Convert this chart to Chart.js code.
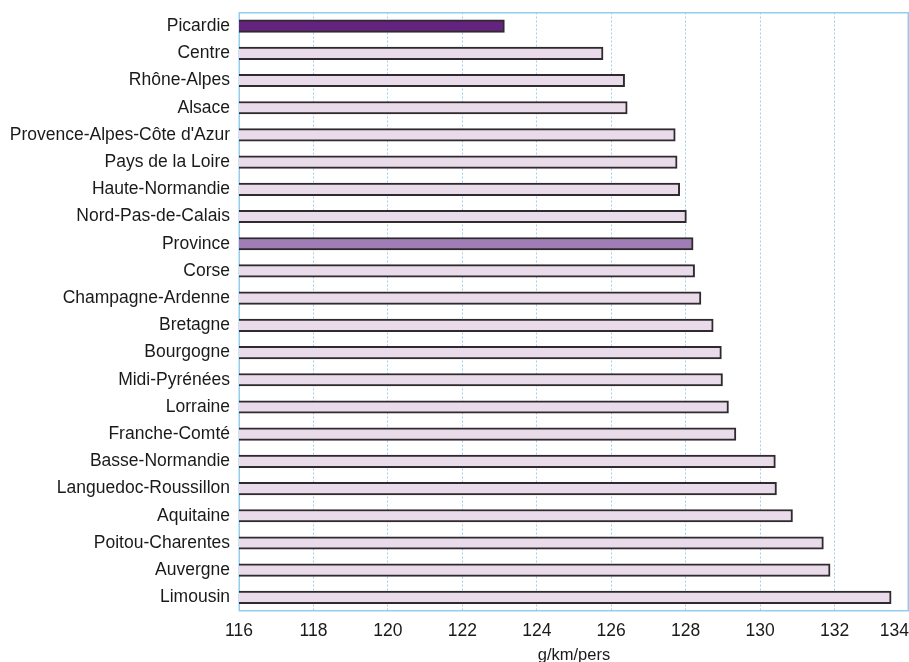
<!DOCTYPE html>
<html>
<head>
<meta charset="utf-8">
<script src="https://cdn.jsdelivr.net/npm/chart.js@4"></script>
<style>
  html, body { margin: 0; padding: 0; background: #fff; }
  #wrap { width: 909px; height: 662px; position: relative; }
</style>
</head>
<body>
<div id="wrap"><canvas id="chart"></canvas></div>
<script>
// Regions, sorted as in the picture (top to bottom)
const regions = [
  'Picardie', 'Centre', 'Rhône-Alpes', 'Alsace', "Provence-Alpes-Côte d'Azur",
  'Pays de la Loire', 'Haute-Normandie', 'Nord-Pas-de-Calais', 'Province', 'Corse',
  'Champagne-Ardenne', 'Bretagne', 'Bourgogne', 'Midi-Pyrénées', 'Lorraine',
  'Franche-Comté', 'Basse-Normandie', 'Languedoc-Roussillon', 'Aquitaine',
  'Poitou-Charentes', 'Auvergne', 'Limousin'
];

// g/km/pers
const emissions = [
  123.13, 125.78, 126.36, 126.43, 127.72,
  127.77, 127.84, 128.02, 128.2, 128.24,
  128.41, 128.74, 128.96, 128.99, 129.15,
  129.35, 130.41, 130.44, 130.87,
  131.7, 131.88, 133.52
];

const xMin = 116;
const xMax = 134;
const xStep = 2;
const xTitle = 'g/km/pers';

const highlight = { 'Picardie': '#63237f', 'Province': '#a07db5' };
const baseColor = '#eadbea';

const labelFont = { family: '"Liberation Sans", Arial, sans-serif', size: 17.5 };

// frame around the plot + keep the first x label centred
const frame = {
  id: 'frame',
  beforeDraw(chart) {
    const items = chart.scales.x.getLabelItems();
    if (items.length) items[0].options.textAlign = 'center';
  },
  beforeDatasetsDraw(chart) {
    const { ctx, chartArea: a } = chart;
    ctx.save();
    ctx.strokeStyle = '#93cdef';
    ctx.lineWidth = 1.5;
    ctx.strokeRect(a.left + 0.25, a.top + 0.25, a.right - a.left - 1, a.bottom - a.top - 0.5);
    ctx.restore();
  }
};

new Chart(document.getElementById('chart'), {
  type: 'bar',
  data: {
    labels: regions,
    datasets: [{
      data: emissions,
      backgroundColor: regions.map(r => highlight[r] || baseColor),
      borderColor: '#2e2a2e',
      borderWidth: 2,
      borderSkipped: false,
      barThickness: 12.5
    }]
  },
  options: {
    indexAxis: 'y',
    responsive: true,
    maintainAspectRatio: false,
    animation: false,
    layout: { padding: { top: 12.5, right: 0, left: 0, bottom: 0 } },
    plugins: {
      legend: { display: false },
      tooltip: { enabled: false }
    },
    scales: {
      x: {
        min: xMin,
        max: xMax,
        border: { display: false, dash: [2, 2] },
        grid: { color: '#9fd0f0', lineWidth: 1, drawTicks: false },
        ticks: {
          stepSize: xStep,
          align: 'inner',
          padding: 10,
          color: '#1a1a1a',
          font: labelFont
        },
        title: {
          display: true,
          text: xTitle,
          color: '#1a1a1a',
          font: { family: labelFont.family, size: 16.5, lineHeight: 1 },
          padding: { top: 0, bottom: -2 }
        },
        afterFit(scale) {
          scale.height = 51;
          scale.paddingLeft = 0;
          scale.paddingRight = 0;
        }
      },
      y: {
        border: { display: false },
        grid: { display: false, drawTicks: false },
        ticks: {
          padding: 9,
          color: '#1a1a1a',
          font: labelFont
        },
        afterFit(scale) {
          scale.width = 239;
          scale.paddingTop = 0;
          scale.paddingBottom = 0;
        }
      }
    }
  },
  plugins: [frame]
});
</script>
</body>
</html>
